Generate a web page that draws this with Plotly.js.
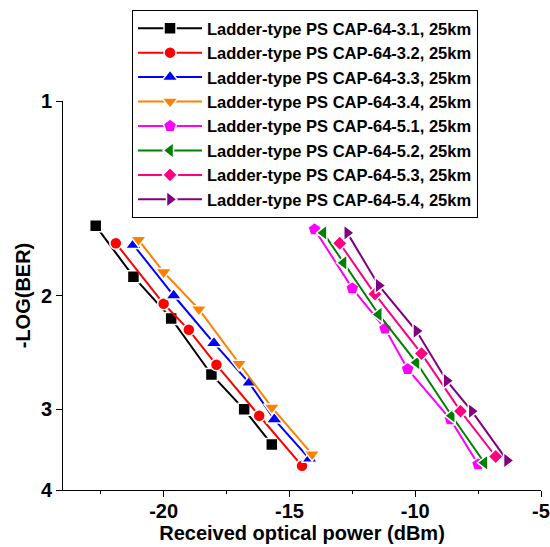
<!DOCTYPE html>
<html>
<head>
<meta charset="utf-8">
<script src="https://cdn.plot.ly/plotly-3.0.1.min.js"></script>
<style>html,body{margin:0;padding:0;background:#fff;}#chart{width:550px;height:547px;}</style>
</head>
<body>
<div id="chart"></div>
<script>
// Series names
const seriesNames = [
  "Ladder-type PS CAP-64-3.1, 25km",
  "Ladder-type PS CAP-64-3.2, 25km",
  "Ladder-type PS CAP-64-3.3, 25km",
  "Ladder-type PS CAP-64-3.4, 25km",
  "Ladder-type PS CAP-64-5.1, 25km",
  "Ladder-type PS CAP-64-5.2, 25km",
  "Ladder-type PS CAP-64-5.3, 25km",
  "Ladder-type PS CAP-64-5.4, 25km"
];
// Received optical power (dBm) and -LOG(BER)
const x31 = [-22.7, -21.2, -19.7, -18.1, -16.8, -15.7];
const y31 = [1.56, 1.87, 2.17, 2.65, 3.00, 3.40];
const x32 = [-21.9, -20.0, -19.0, -17.9, -16.2, -14.5];
const y32 = [1.66, 2.06, 2.26, 2.56, 3.07, 3.67];
const x33 = [-21.2, -19.6, -18.0, -16.6, -15.6, -14.2];
const y33 = [1.67, 2.00, 2.37, 2.73, 3.11, 3.58];
const x34 = [-21.0, -20.0, -18.6, -17.0, -15.7, -14.1];
const y34 = [1.64, 1.84, 2.10, 2.55, 2.98, 3.52];
const x51 = [-14.0, -12.5, -11.2, -10.3, -8.6, -7.5];
const y51 = [1.58, 1.95, 2.25, 2.60, 3.11, 3.65];
const x52 = [-13.65, -12.85, -11.45, -9.95, -8.55, -7.25];
const y52 = [1.60, 1.78, 2.14, 2.54, 3.07, 3.63];
const x53 = [-13.0, -11.6, -9.75, -8.2, -6.8];
const y53 = [1.66, 1.99, 2.46, 3.02, 3.55];
const x54 = [-12.7, -11.45, -9.95, -8.75, -7.75, -6.35];
const y54 = [1.60, 1.93, 2.27, 2.71, 3.02, 3.60];

const xTickVals = [-20, -15, -10, -5];
const xTickText = ["-20", "-15", "-10", "-5"];
const xMinorVals = [-22.5, -17.5, -12.5, -7.5];
const yTickVals = [1, 2, 3, 4];
const yTickText = ["1", "2", "3", "4"];

const xs = [x31, x32, x33, x34, x51, x52, x53, x54];
const ys = [y31, y32, y33, y34, y51, y52, y53, y54];
const colors = ["#000000", "#FF0000", "#0000FF", "#FF8000", "#FF00FF", "#008000", "#FF0080", "#800080"];
const symbols = ["square", "circle", "triangle-up", "triangle-down", "pentagon", "triangle-left", "diamond", "triangle-right"];
const sizes = [12, 12, 14, 14, 14, 14, 11.5, 14];

const traces = xs.map((x, i) => ({
  type: "scatter",
  mode: "lines+markers",
  x: x,
  y: ys[i],
  name: seriesNames[i],
  line: {color: colors[i], width: 2},
  marker: {symbol: symbols[i], size: sizes[i], color: colors[i], line: {color: "#ffffff", width: 1.5}}
}));

const FONT = "Liberation Sans, Arial, sans-serif";

const layout = {
  width: 550,
  height: 547,
  margin: {l: 63, r: 9, t: 101, b: 57},
  paper_bgcolor: "#ffffff",
  plot_bgcolor: "#ffffff",
  font: {family: FONT, color: "#000000"},
  showlegend: true,
  legend: {
    x: 0.1444, y: 1.234, xanchor: "left", yanchor: "top",
    bgcolor: "#ffffff", bordercolor: "#000000", borderwidth: 1,
    font: {family: FONT, size: 16.5, weight: "bold", color: "#000000"},
    itemwidth: 64
  },
  xaxis: {
    range: [-24, -5],
    tickmode: "array",
    tickvals: xTickVals,
    ticktext: xTickText,
    ticks: "outside",
    ticklen: 6,
    tickwidth: 1,
    tickcolor: "#000000",
    ticklabeloverflow: "allow",
    ticklabelstandoff: -3,
    minor: {tickmode: "array", tickvals: xMinorVals, ticks: "outside", ticklen: 3, tickcolor: "#000000", tickwidth: 1, showgrid: false},
    showline: true,
    linecolor: "#000000",
    linewidth: 1,
    showgrid: false,
    zeroline: false,
    tickfont: {family: FONT, size: 20, weight: "bold"},
    title: {text: "Received optical power (dBm)", font: {family: FONT, size: 20, weight: "bold"}, standoff: 2}
  },
  yaxis: {
    type: "log",
    range: [Math.log10(4), 0],
    tickmode: "array",
    tickvals: yTickVals,
    ticktext: yTickText,
    ticks: "outside",
    ticklen: 6,
    tickwidth: 1,
    tickcolor: "#000000",
    showline: true,
    linecolor: "#000000",
    linewidth: 1,
    showgrid: false,
    zeroline: false,
    tickfont: {family: FONT, size: 20, weight: "bold"},
    title: {text: "-LOG(BER)", font: {family: FONT, size: 20, weight: "bold"}, standoff: 4}
  }
};

Plotly.newPlot("chart", traces, layout, {displayModeBar: false, staticPlot: true});
</script>
</body>
</html>
